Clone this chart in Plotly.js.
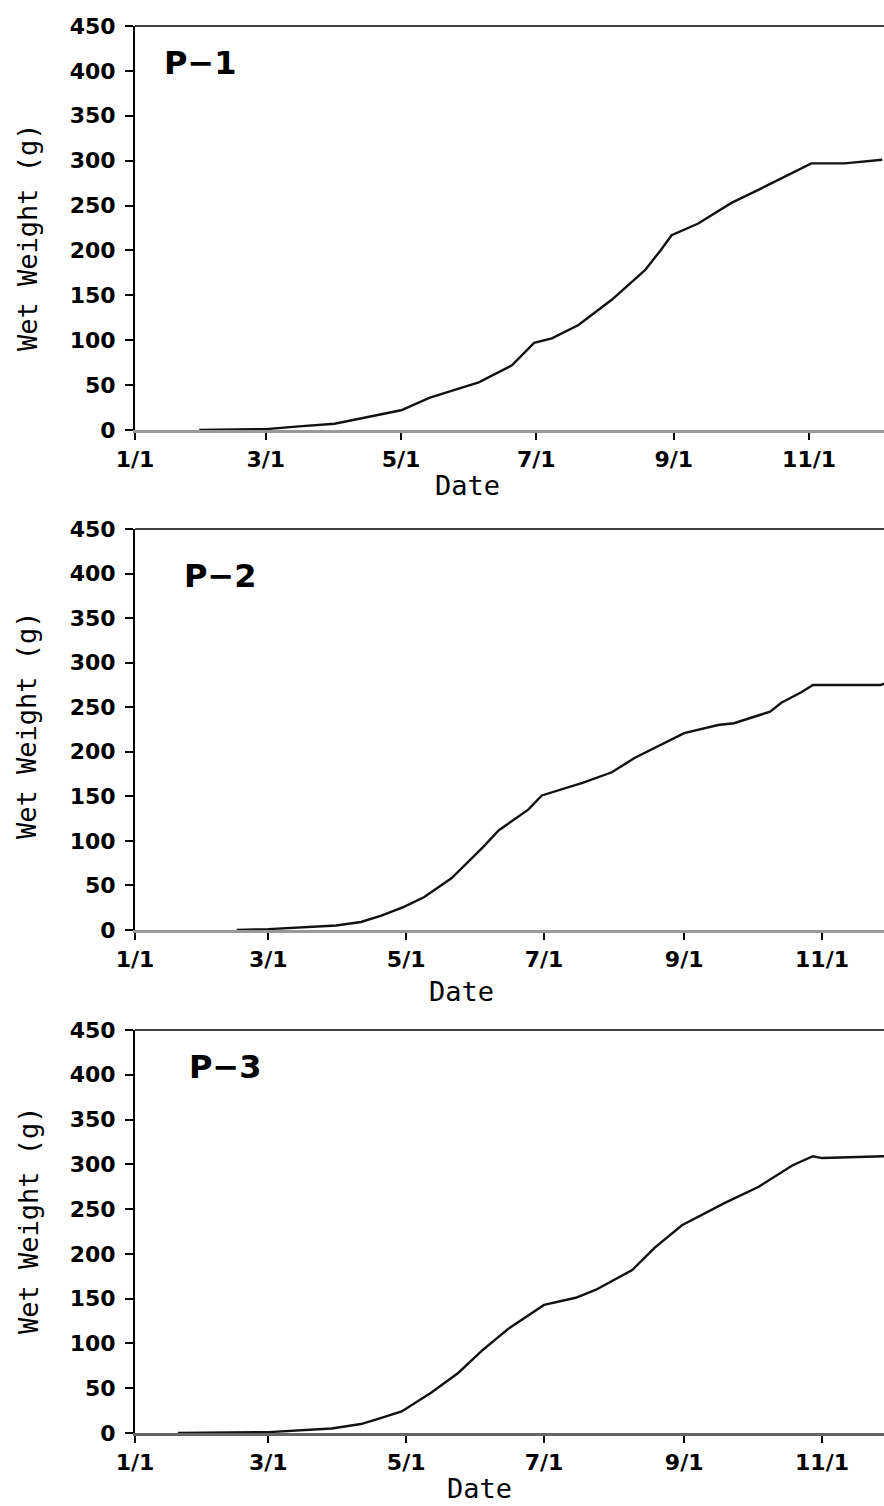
<!DOCTYPE html>
<html>
<head>
<meta charset="utf-8">
<script src="https://cdn.plot.ly/plotly-3.0.1.min.js"></script>
<style>html,body{margin:0;padding:0;background:#fff;}#chart{width:884px;height:1506px;}</style>
</head>
<body>
<div id="chart"></div>
<script>
// ---- data ----
const tickDates = ['2001-01-01','2001-03-01','2001-05-01','2001-07-01','2001-09-01','2001-11-01'];
const tickLabels = ['1/1','3/1','5/1','7/1','9/1','11/1'];
const yTickVals = [0,50,100,150,200,250,300,350,400,450];
const panelLabels = ['P\u22121','P\u22122','P\u22123'];

const p1Dates = ['2001-01-30','2001-03-01','2001-03-16','2001-04-01','2001-04-11','2001-04-21','2001-05-01','2001-05-14','2001-06-05','2001-06-20','2001-06-30','2001-07-08','2001-07-20','2001-08-04','2001-08-19','2001-08-26','2001-08-31','2001-09-12','2001-09-27','2001-10-12','2001-10-27','2001-11-02','2001-11-17','2001-11-25','2001-12-04'];
const p1Weight = [0,1,4,7,12,17,22,36,53,72,97,102,117,145,178,200,217,230,253,271,290,297,297,299,301];

const p2Dates = ['2001-02-15','2001-03-01','2001-03-31','2001-04-11','2001-04-20','2001-04-30','2001-05-09','2001-05-21','2001-06-04','2001-06-11','2001-06-24','2001-06-30','2001-07-18','2001-07-31','2001-08-10','2001-09-01','2001-09-16','2001-09-23','2001-10-09','2001-10-14','2001-10-23','2001-10-28','2001-11-27','2001-11-29'];
const p2Weight = [0,1,5,9,16,26,37,58,93,112,135,151,165,177,193,221,230,232,245,255,267,275,275,277];

const p3Dates = ['2001-01-20','2001-03-01','2001-03-29','2001-04-11','2001-04-20','2001-04-29','2001-05-12','2001-05-24','2001-06-04','2001-06-15','2001-07-01','2001-07-15','2001-07-24','2001-08-09','2001-08-19','2001-08-31','2001-09-19','2001-10-04','2001-10-19','2001-10-28','2001-11-01','2001-11-29'];
const p3Weight = [0,1,5,10,17,24,45,67,93,116,143,151,160,182,207,232,257,275,299,309,307,309];

// ---- layout helpers ----
const W = 884, H = 1506;
const px = v => v / W;
const py = v => 1 - v / H;

const tickFont = {family: 'DejaVu Sans', size: 22, color: '#000', weight: 'bold'};
const titleFont = {family: 'DejaVu Sans Mono', size: 27, color: '#000'};

function xAxis(anchor, end, lineColor) {
  return {
    domain: [px(135), 1], anchor: anchor, type: 'date',
    range: ['2001-01-01', end],
    tickvals: tickDates, ticktext: tickLabels,
    ticks: 'outside', ticklen: 7, tickwidth: 2, tickcolor: '#000',
    showline: true, linecolor: lineColor, linewidth: 3,
    showgrid: false, zeroline: false, tickfont: tickFont,
    ticklabelstandoff: 1, fixedrange: true
  };
}
function yAxis(anchor, top, bottom) {
  return {
    domain: [py(bottom), py(top)], anchor: anchor,
    range: [0, 450], tickvals: yTickVals,
    ticks: 'outside', ticklen: 8, tickwidth: 2, tickcolor: '#000',
    showline: true, linecolor: '#000', linewidth: 2,
    showgrid: false, zeroline: false, tickfont: tickFont,
    ticklabelstandoff: 5, fixedrange: true
  };
}

const lineStyle = {color: '#111', width: 2.4};
const traces = [
  {x: p1Dates, y: p1Weight, xaxis: 'x', yaxis: 'y', mode: 'lines', line: lineStyle, hoverinfo: 'skip'},
  {x: p2Dates, y: p2Weight, xaxis: 'x2', yaxis: 'y2', mode: 'lines', line: lineStyle, hoverinfo: 'skip'},
  {x: p3Dates, y: p3Weight, xaxis: 'x3', yaxis: 'y3', mode: 'lines', line: lineStyle, hoverinfo: 'skip'}
];

function ann(text, x, y, font, angle) {
  return {text: text, xref: 'paper', yref: 'paper', x: px(x), y: py(y),
          xanchor: 'center', yanchor: 'middle', showarrow: false, font: font, textangle: angle || 0};
}
const labelFont = {family: 'DejaVu Sans', size: 32, color: '#000', weight: 'bold'};

const annotations = [
  ann(panelLabels[0], 200, 63, labelFont),
  ann(panelLabels[1], 220, 576, labelFont),
  ann(panelLabels[2], 225, 1067, labelFont),
  ann('Wet Weight (g)', 28, 237, titleFont, -90),
  ann('Wet Weight (g)', 26, 725, titleFont, -90),
  ann('Wet Weight (g)', 28, 1220, titleFont, -90),
  ann('Date', 467, 486, titleFont),
  ann('Date', 461, 991, titleFont),
  ann('Date', 480, 1488, titleFont)
];

function topLine(xa, ya) {
  return {type: 'line', xref: xa + ' domain', yref: ya + ' domain', x0: 0, x1: 1, y0: 1, y1: 1,
          line: {color: '#000', width: 1.5}};
}

const layout = {
  width: W, height: H,
  margin: {l: 0, r: 0, t: 0, b: 0},
  paper_bgcolor: '#fff', plot_bgcolor: '#fff',
  showlegend: false,
  xaxis: xAxis('y', '2001-12-04 19:00', '#999'),
  yaxis: yAxis('x', 26, 430),
  xaxis2: xAxis('y2', '2001-11-28 10:00', '#999'),
  yaxis2: yAxis('x2', 529, 930),
  xaxis3: xAxis('y3', '2001-11-28 10:00', '#666'),
  yaxis3: yAxis('x3', 1030, 1433),
  annotations: annotations,
  shapes: [topLine('x', 'y'), topLine('x2', 'y2'), topLine('x3', 'y3')]
};

Plotly.newPlot('chart', traces, layout, {displayModeBar: false, staticPlot: true});
</script>
</body>
</html>
